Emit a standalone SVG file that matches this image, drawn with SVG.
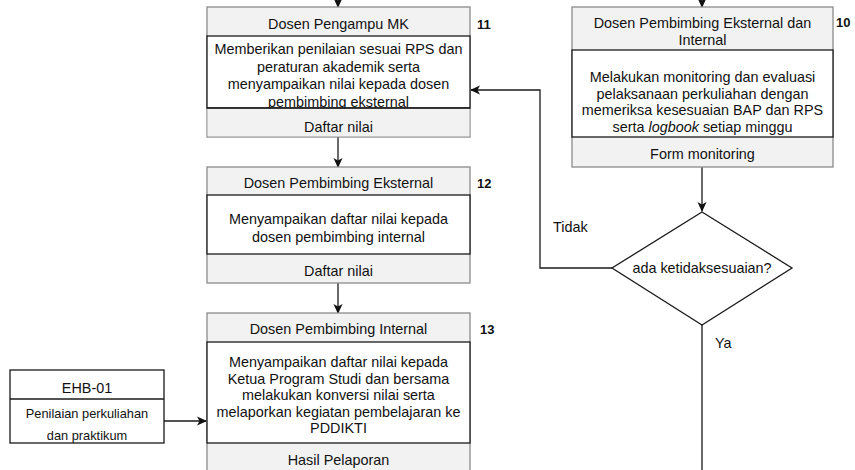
<svg xmlns="http://www.w3.org/2000/svg" width="855" height="470" viewBox="0 0 855 470">
<style>
.hdr{fill:#f2f2f2;stroke:#8a8a8a;stroke-width:1.3}
.body{fill:#ffffff;stroke:#1a1a1a;stroke-width:1.3}
.t{font-family:"Liberation Sans",Arial,sans-serif;font-size:14.4px;fill:#111;text-anchor:middle}
.s{font-family:"Liberation Sans",Arial,sans-serif;font-size:12.8px;fill:#111;text-anchor:middle}
.n{font-family:"Liberation Sans",Arial,sans-serif;font-size:13px;font-weight:bold;fill:#111}
.l{font-family:"Liberation Sans",Arial,sans-serif;font-size:14.4px;fill:#111}
.c{fill:none;stroke:#1a1a1a;stroke-width:1.3}
</style>
<defs>
<marker id="ah" viewBox="0 0 10 10" refX="9" refY="5" markerWidth="10" markerHeight="10" markerUnits="userSpaceOnUse" orient="auto">
<path d="M0,0.5 L10,5 L0,9.5 L2.5,5 Z" fill="#111"/>
</marker>
</defs>
<rect width="855" height="470" fill="#fff"/>
<g id="connectors">
<line class="c" x1="338" y1="-5" x2="338" y2="7" marker-end="url(#ah)"/>
<line class="c" x1="702" y1="-5" x2="702" y2="7" marker-end="url(#ah)"/>
<line class="c" x1="338" y1="137" x2="338" y2="167" marker-end="url(#ah)"/>
<line class="c" x1="338" y1="283" x2="338" y2="313" marker-end="url(#ah)"/>
<line class="c" x1="702" y1="167" x2="702" y2="211" marker-end="url(#ah)"/>
<polyline class="c" points="612,268 540,268 540,90 471,90" marker-end="url(#ah)"/>
<line class="c" x1="702" y1="325" x2="702" y2="472"/>
<line class="c" x1="164" y1="421" x2="206" y2="421" marker-end="url(#ah)"/>
<text class="l" x="553" y="232">Tidak</text>
<text class="l" x="715" y="348">Ya</text>
</g>
<g id="node11">
<rect class="hdr" x="207" y="7" width="263" height="130"/>
<rect class="body" x="207" y="36" width="263" height="72"/>
<text class="t" x="338.5" y="29">Dosen Pengampu MK</text>
<text class="t" x="338.5" y="54">Memberikan penilaian sesuai RPS dan</text>
<text class="t" x="338.5" y="71.5">peraturan akademik serta</text>
<text class="t" x="338.5" y="89">menyampaikan nilai kepada dosen</text>
<text class="t" x="338.5" y="106.5">pembimbing eksternal</text>
<rect x="207.6" y="108.7" width="261.8" height="27.6" fill="#f2f2f2"/>
<line x1="207" y1="108" x2="470" y2="108" stroke="#1a1a1a" stroke-width="1.3"/>
<text class="t" x="338.5" y="131.5">Daftar nilai</text>
<text class="n" x="477" y="28.5">11</text>
</g>
<g id="node10">
<rect class="hdr" x="572" y="7" width="261" height="160"/>
<rect class="body" x="572" y="50" width="261" height="87"/>
<text class="t" x="702.5" y="28">Dosen Pembimbing Eksternal dan</text>
<text class="t" x="702.5" y="45">Internal</text>
<text class="t" x="702.5" y="82">Melakukan monitoring dan evaluasi</text>
<text class="t" x="702.5" y="98.5">pelaksanaan perkuliahan dengan</text>
<text class="t" x="702.5" y="115">memeriksa kesesuaian BAP dan RPS</text>
<text class="t" x="702.5" y="131.5">serta <tspan font-style="italic">logbook</tspan> setiap minggu</text>
<text class="t" x="702.5" y="159">Form monitoring</text>
<text class="n" x="836" y="26.5">10</text>
</g>
<g id="node12">
<rect class="hdr" x="207" y="167" width="263" height="116"/>
<rect class="body" x="207" y="195" width="263" height="59"/>
<text class="t" x="338.5" y="188">Dosen Pembimbing Eksternal</text>
<text class="t" x="338.5" y="224">Menyampaikan daftar nilai kepada</text>
<text class="t" x="338.5" y="242">dosen pembimbing internal</text>
<text class="t" x="338.5" y="276">Daftar nilai</text>
<text class="n" x="477" y="188">12</text>
</g>
<g id="decision">
<polygon points="702,212 792,268 702,325 612,268" fill="#fff" stroke="#1a1a1a" stroke-width="1.3"/>
<text class="t" x="702" y="273">ada ketidaksesuaian?</text>
</g>
<g id="node13">
<rect class="hdr" x="207" y="313" width="263" height="162"/>
<rect class="body" x="207" y="342" width="263" height="101"/>
<text class="t" x="338.5" y="334">Dosen Pembimbing Internal</text>
<text class="t" x="338.5" y="367">Menyampaikan daftar nilai kepada</text>
<text class="t" x="338.5" y="383.5">Ketua Program Studi dan bersama</text>
<text class="t" x="338.5" y="400">melakukan konversi nilai serta</text>
<text class="t" x="338.5" y="416.5">melaporkan kegiatan pembelajaran ke</text>
<text class="t" x="338.5" y="433">PDDIKTI</text>
<text class="t" x="338.5" y="465">Hasil Pelaporan</text>
<text class="n" x="480" y="334">13</text>
</g>
<g id="ehb01">
<rect x="10" y="370" width="154" height="73" fill="#fff" stroke="#1a1a1a" stroke-width="1.3"/>
<line x1="10" y1="399" x2="164" y2="399" stroke="#1a1a1a" stroke-width="1.3"/>
<text class="t" x="87" y="393">EHB-01</text>
<text class="s" x="87" y="417.5">Penilaian perkuliahan</text>
<text class="s" x="87" y="439.5">dan praktikum</text>
</g>
</svg>
